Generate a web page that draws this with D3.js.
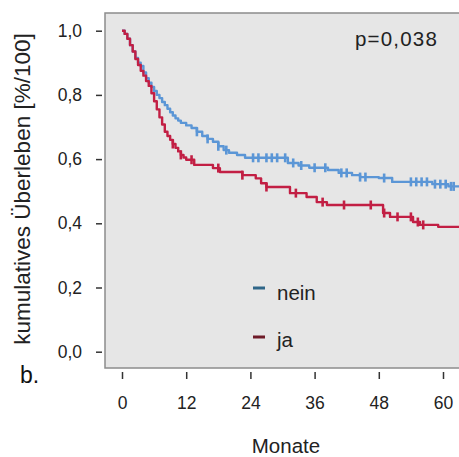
<!DOCTYPE html>
<html><head><meta charset="utf-8">
<script src="https://cdn.jsdelivr.net/npm/d3@7"></script>
<style>html,body{margin:0;padding:0;background:#fff;}svg{display:block;font-family:"Liberation Sans",Arial,sans-serif;}</style>
</head><body>
<script>
// Kaplan-Meier step data: time (months), survival after that time
const neinTimes = [0,0.5,1,1.5,2,2.5,3,3.5,4,4.5,5,5.5,6,6.5,7,7.5,8,8.5,9,9.5,10,10.5,11,12,13,14,15,16,17,18,19,20,21.5,23,31,33,35,38.5,40.5,43,44.5,48,50.5,58,61,63];
const neinSurv  = [1,0.99,0.975,0.955,0.935,0.915,0.9,0.89,0.87,0.852,0.838,0.825,0.812,0.8,0.79,0.778,0.768,0.757,0.746,0.736,0.727,0.72,0.713,0.705,0.697,0.685,0.672,0.663,0.654,0.64,0.628,0.62,0.613,0.604,0.588,0.58,0.573,0.566,0.557,0.55,0.544,0.541,0.529,0.522,0.515,0.515];
const neinCensored = [14,16,18,19.5,24.5,25.5,27,28,29,30.5,32,33.5,36,38,41,42,44.5,45.5,49,54,55,56,57,58.5,59.5,60.5,61.5,62];

const jaTimes = [0,0.5,1,1.5,2,2.5,3,3.5,4,4.5,5,5.5,6,6.5,7,7.5,8,8.5,9,9.5,10,10.5,11,11.5,12,13.5,17,18.3,22.5,25,26,27,31.4,34.5,36.4,38.3,48.8,50.1,54.4,55.7,59.1,63];
const jaSurv  = [1,0.99,0.975,0.955,0.935,0.912,0.893,0.875,0.86,0.843,0.828,0.805,0.78,0.755,0.73,0.708,0.685,0.672,0.66,0.647,0.635,0.624,0.613,0.605,0.598,0.582,0.572,0.56,0.55,0.54,0.525,0.513,0.494,0.482,0.466,0.457,0.432,0.42,0.404,0.395,0.389,0.389];
const jaCensored = [9.5,11,13,18,22.5,27,32.5,37.5,41.5,46.5,49,51.5,54,55.3,56.3];

const xTicks = [0,12,24,36,48,60];
const yTicks = [0,0.2,0.4,0.6,0.8,1.0];
const groups = ["nein","ja"];
const colors = {nein:"#5b96d6", ja:"#c21f44"};
const legendColors = {nein:"#2f6688", ja:"#6e1b28"};

const W=459,H=457;
const svg = d3.select("body").append("svg").attr("width",W).attr("height",H);
const x = d3.scaleLinear().domain([0,60]).range([122,443]);
const y = d3.scaleLinear().domain([0,1]).range([351.7,30.7]);

// plot box
svg.append("rect").attr("x",105).attr("y",13).attr("width",380).attr("height",355)
  .attr("fill","#e6e6e6").attr("stroke","#8c8c8c").attr("stroke-width",1.5);

// axes
const fmt = d => d3.format(".1f")(d).replace(".",",");
const yAxis = svg.append("g").attr("transform","translate(102,0)")
  .call(d3.axisLeft(y).tickValues(yTicks).tickFormat(fmt).tickSize(6).tickPadding(14));
yAxis.select(".domain").remove();
yAxis.selectAll("line").attr("stroke","#333").attr("stroke-width",1.5);
yAxis.selectAll("text").attr("font-size",17.5).attr("fill","#222").attr("font-family","Liberation Sans, Arial, sans-serif");

const xAxis = svg.append("g").attr("transform","translate(0,372)")
  .call(d3.axisBottom(x).tickValues(xTicks).tickFormat(d3.format("d")).tickSize(7).tickPadding(18));
xAxis.select(".domain").remove();
xAxis.selectAll("line").attr("stroke","#333").attr("stroke-width",1.5);
xAxis.selectAll("text").attr("font-size",17.5).attr("fill","#222").attr("font-family","Liberation Sans, Arial, sans-serif");

// labels
svg.append("text").attr("x",286).attr("y",453).attr("text-anchor","middle")
  .attr("font-size",20.5).attr("fill","#222").text("Monate");
svg.append("text").attr("transform","translate(29.5,189) rotate(-90)").attr("text-anchor","middle")
  .attr("font-size",22.5).attr("fill","#222").text("kumulatives Überleben [%/100]");
svg.append("text").attr("x",20).attr("y",383).attr("font-size",23).attr("fill","#111").text("b.");
svg.append("text").attr("x",355).attr("y",46).attr("font-size",20.5).attr("letter-spacing",1.2).attr("fill","#222").text("p=0,038");

// curves
const clip = svg.append("clipPath").attr("id","c").append("rect").attr("x",105).attr("y",13).attr("width",380).attr("height",355);
const g = svg.append("g").attr("clip-path","url(#c)");
const series = {
  nein:{t:neinTimes,s:neinSurv,c:neinCensored},
  ja:{t:jaTimes,s:jaSurv,c:jaCensored}
};
const line = d3.line().x(d=>x(d[0])).y(d=>y(d[1])).curve(d3.curveStepAfter);
function survAt(sr,t){ const i=d3.bisectRight(sr.t,t)-1; return sr.s[Math.max(0,i)]; }
["nein","ja"].forEach(k=>{
  const sr=series[k];
  const pts=sr.t.map((t,i)=>[t,sr.s[i]]);
  g.append("path").datum(pts).attr("d",line).attr("fill","none")
    .attr("stroke",colors[k]).attr("stroke-width",2.4).attr("stroke-linejoin","round");
  g.selectAll(null).data(sr.c).enter().append("line")
    .attr("x1",d=>x(d)).attr("x2",d=>x(d))
    .attr("y1",d=>y(survAt(sr,d))-4.5).attr("y2",d=>y(survAt(sr,d))+4.5)
    .attr("stroke",colors[k]).attr("stroke-width",2.6);
});

// legend
const leg = [{k:"nein",y:288},{k:"ja",y:337}];
leg.forEach(l=>{
  svg.append("line").attr("x1",253).attr("x2",265).attr("y1",l.y).attr("y2",l.y)
    .attr("stroke",legendColors[l.k]).attr("stroke-width",3);
  svg.append("text").attr("x",277).attr("y",l.y+ (l.k==="nein"?12:10)).attr("font-size",20.5).attr("fill","#222").text(l.k);
});
</script>
</body></html>
